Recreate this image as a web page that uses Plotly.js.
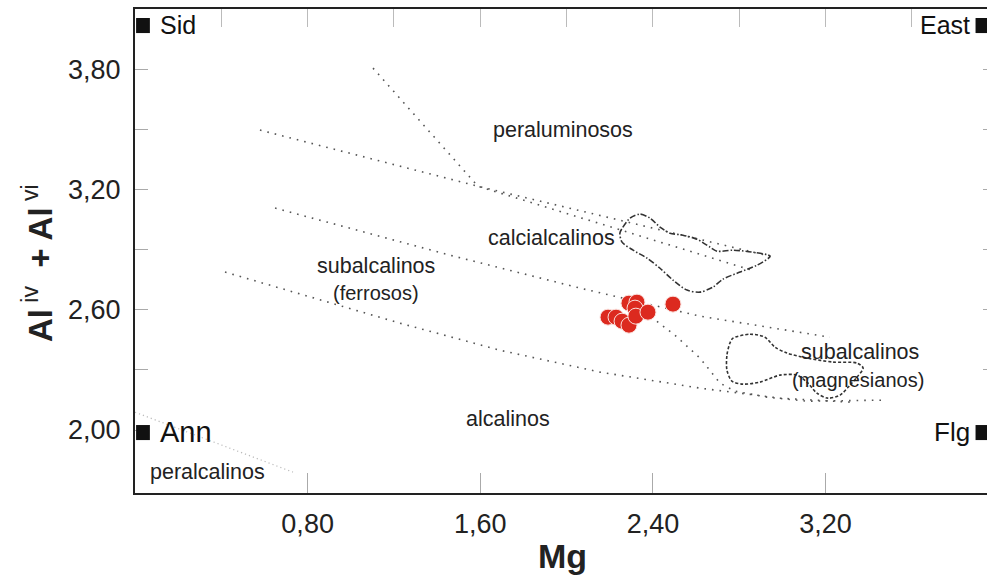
<!DOCTYPE html>
<html><head><meta charset="utf-8">
<script src="https://cdn.plot.ly/plotly-3.0.1.min.js"></script>
<style>html,body{margin:0;padding:0;overflow:hidden;background:#fff;width:987px;height:577px}#plot{width:995px;height:577px}</style>
</head><body><div id="plot"></div>
<script>
// ---- sample data (Mg vs Al iv + Al vi) ----
const sampleMg = [2.192, 2.229, 2.257, 2.289, 2.289, 2.326, 2.317, 2.321, 2.377, 2.493];
const sampleAl = [2.563, 2.563, 2.543, 2.523, 2.633, 2.638, 2.608, 2.568, 2.588, 2.628];

// ---- field boundaries (dotted) ----
const lineA_x = [0.579, 1.589, 2.943];
const lineA_y = [3.496, 3.216, 2.867];
const lineB_x = [1.103, 1.589, 2.859];
const lineB_y = [3.805, 3.216, 2.797];
const lineC_x = [0.649, 1.460, 2.062, 2.618, 3.220];
const lineC_y = [3.107, 2.872, 2.708, 2.568, 2.463];
const lineD_x = [2.363, 2.502, 2.618, 2.711, 2.780, 2.929, 3.114, 3.466];
const lineD_y = [2.588, 2.473, 2.359, 2.234, 2.194, 2.164, 2.144, 2.149];
const lineE_x = [0.417, 0.765, 1.228, 1.691, 2.155, 2.618, 2.989, 3.313];
const lineE_y = [2.788, 2.678, 2.533, 2.398, 2.289, 2.209, 2.159, 2.139];
const linePer_x = [0.0, 0.732];
const linePer_y = [2.089, 1.790];

// ---- reference fields ----
const field1_x = [2.247,2.261,2.294,2.340,2.386,2.433,2.479,2.539,2.604,2.665,2.697,2.771,2.864,2.943,2.882,2.804,2.725,2.678,2.618,2.558,2.493,2.433,2.373,2.308,2.257,2.247];
const field1_y = [2.982,3.012,3.057,3.077,3.057,3.012,2.982,2.972,2.952,2.912,2.892,2.897,2.887,2.867,2.822,2.788,2.753,2.713,2.688,2.698,2.748,2.807,2.857,2.897,2.937,2.982];
const field2_x = [2.771,2.850,2.919,2.966,3.021,3.114,3.234,3.346,3.374,3.346,3.313,3.267,3.211,3.160,3.114,3.068,2.989,2.896,2.817,2.766,2.743,2.743,2.757,2.771];
const field2_y = [2.458,2.478,2.463,2.413,2.384,2.359,2.339,2.334,2.309,2.264,2.224,2.174,2.159,2.184,2.239,2.274,2.274,2.239,2.229,2.244,2.299,2.374,2.434,2.458];

// ---- ticks ----
const xTickVals = [0.8, 1.6, 2.4, 3.2];
const xTickText = ['0,80', '1,60', '2,40', '3,20'];
const yTickVals = [2.0, 2.6, 3.2, 3.8];
const yTickText = ['2,00', '2,60', '3,20', '3,80'];

// ---- labels ----
const fieldLabels = ['peraluminosos', 'calcialcalinos', 'subalcalinos', '(ferrosos)', 'subalcalinos', '(magnesianos)', 'alcalinos', 'peralcalinos'];
const endMembers = ['Sid', 'Ann', 'East', 'Flg'];

const dotLine = {color: '#555', width: 1.6, dash: '1.6px,6px'};
function boundary(x, y, line) {
  return {x: x, y: y, type: 'scatter', mode: 'lines', line: line || dotLine, hoverinfo: 'skip', showlegend: false};
}
const traces = [
  boundary(lineA_x, lineA_y),
  boundary(lineB_x, lineB_y),
  boundary(lineC_x, lineC_y),
  boundary(lineD_x, lineD_y),
  boundary(lineE_x, lineE_y),
  boundary(linePer_x, linePer_y, {color: '#bbb', width: 1.2, dash: '1.2px,3px'}),
  boundary(field1_x, field1_y, {color: '#333', width: 1.6, dash: '6px,2px,1.5px,2px', shape: 'spline', smoothing: 0.8}),
  boundary(field2_x, field2_y, {color: '#333', width: 1.6, dash: '3px,2px', shape: 'spline', smoothing: 0.8}),
  {x: sampleMg, y: sampleAl, type: 'scatter', mode: 'markers', showlegend: false,
   marker: {color: '#dc2a1f', size: 16, line: {color: '#fbe0dc', width: 1}}},
  // invisible trace to carry the top/right axes
  {x: [0], y: [2], xaxis: 'x2', yaxis: 'y2', mode: 'markers', marker: {opacity: 0}, hoverinfo: 'skip', showlegend: false}
];

const labelFont = {family: 'Liberation Sans, Arial, sans-serif', size: 21.5, color: '#222'};
const fieldPos = [[1.983,3.496],[1.928,2.957],[1.117,2.817],[1.117,2.683],[3.360,2.389],[3.350,2.249],[1.728,2.054],[0.338,1.790]];
const annotations = fieldLabels.map((t, i) => ({
  text: t, x: fieldPos[i][0], y: fieldPos[i][1], xref: 'x', yref: 'y', showarrow: false,
  font: Object.assign({}, labelFont, {size: (t === '(ferrosos)' || t === '(magnesianos)') ? 20 : 21.5})
}));
const endPos = [[0.107, 4.02, 'left', 25], [0.107, 1.99, 'left', 29], [3.88, 4.02, 'right', 25], [3.88, 1.99, 'right', 26]];
endMembers.forEach((t, i) => annotations.push({
  text: t, x: endPos[i][0], y: endPos[i][1], xanchor: endPos[i][2], xref: 'x', yref: 'y', showarrow: false,
  font: {family: 'Liberation Sans, Arial, sans-serif', size: endPos[i][3], color: '#111'}
}));
// y-axis title (placed as rotated annotation so it can sit slightly below centre, as in the reference)
annotations.push({
  text: '<b>Al</b><sup> iv</sup><b>  + Al</b><sup> vi</sup>', textangle: -90,
  xref: 'paper', yref: 'paper', x: 0, y: 0.475, xanchor: 'center', yanchor: 'middle', xshift: -97,
  showarrow: false, font: {family: 'Liberation Sans, Arial, sans-serif', size: 33, color: '#222'}
});

const sq = (x0, x1, y0, y1) => ({type: 'rect', xref: 'x', yref: 'y', x0: x0, x1: x1, y0: y0, y1: y1, fillcolor: '#111', line: {width: 0}, layer: 'above'});
const shapes = [
  sq(0.005, 0.069, 3.98, 4.055),
  sq(0.005, 0.069, 1.95, 2.025),
  sq(3.895, 3.962, 3.98, 4.055),
  sq(3.895, 3.962, 1.95, 2.025)
];

const tickFont = {family: 'Liberation Sans Narrow, Arial Narrow, Liberation Sans, sans-serif', size: 27, color: '#222'};
const layout = {
  width: 995, height: 577,
  margin: {l: 135, r: 5, t: 9, b: 84},
  paper_bgcolor: '#fff', plot_bgcolor: '#fff',
  separators: ',.',
  showlegend: false,
  xaxis: {
    range: [0, 3.962], tickvals: xTickVals, ticktext: xTickText,
    ticks: 'inside', ticklen: 20, tickwidth: 1, tickcolor: '#aaa',
    showgrid: false, zeroline: false, showline: true, linecolor: '#222', linewidth: 2, mirror: true,
    tickfont: tickFont, ticklabelstandoff: 6,
    title: {text: '<b>Mg</b>', font: {family: 'Liberation Sans Narrow, Arial Narrow, Liberation Sans, sans-serif', size: 34, color: '#222'}, standoff: 6}
  },
  yaxis: {
    range: [1.686, 4.10], tickvals: yTickVals, ticktext: yTickText,
    ticks: 'inside', ticklen: 13, tickwidth: 1, tickcolor: '#aaa',
    minor: {tickvals: [2.3, 2.9, 3.5], ticks: 'inside', ticklen: 13, tickwidth: 1, tickcolor: '#aaa'},
    showgrid: false, zeroline: false, showline: true, linecolor: '#222', linewidth: 2, mirror: true,
    tickfont: tickFont, ticklabelstandoff: 7
  },
  xaxis2: {
    overlaying: 'x', side: 'top', range: [0, 3.962], tickvals: [0.4,0.8,1.2,1.6,2.0,2.4,2.8,3.2,3.6],
    ticks: 'inside', ticklen: 18, tickwidth: 1, tickcolor: '#bbb', showticklabels: false,
    showgrid: false, zeroline: false, showline: false
  },
  yaxis2: {
    overlaying: 'y', side: 'right', range: [1.686, 4.10], tickvals: [2.3,2.6,2.9,3.2,3.5,3.8],
    ticks: 'inside', ticklen: 7, tickwidth: 1, tickcolor: '#aaa', showticklabels: false,
    showgrid: false, zeroline: false, showline: false
  },
  annotations: annotations,
  shapes: shapes
};
Plotly.newPlot('plot', traces, layout, {staticPlot: true, displayModeBar: false});
</script></body></html>
